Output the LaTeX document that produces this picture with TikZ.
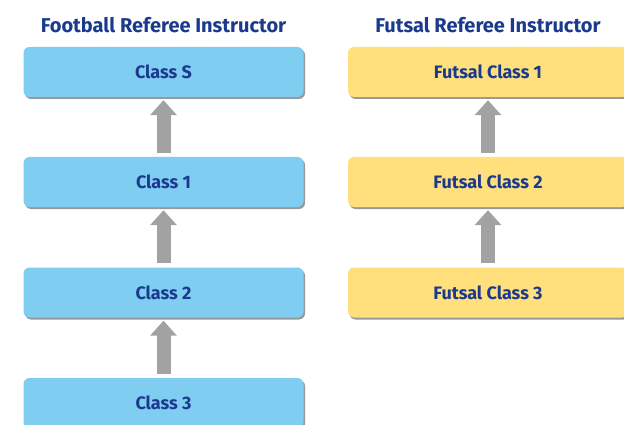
\documentclass[tikz,border=0pt]{standalone}
\usepackage{fontspec}
\setmainfont{Fira Sans}
\usetikzlibrary{arrows.meta,shadows,calc}
\definecolor{navy}{HTML}{1B3A8E}
\definecolor{skyfill}{HTML}{80CDF2}
\definecolor{yelfill}{HTML}{FFE07C}
\definecolor{arrgray}{HTML}{A2A2A2}
\tikzset{
  classbox/.style={rounded corners=6pt, minimum width=280pt, minimum height=50pt,
    inner sep=0pt, font=\fontsize{18}{20}\selectfont\bfseries, text=navy,
    drop shadow={shadow xshift=1.5pt, shadow yshift=-2pt, opacity=0.4, fill=black}},
  bluebox/.style={classbox, fill=skyfill},
  yelbox/.style={classbox, fill=yelfill},
  heading/.style={font=\fontsize{20}{23}\selectfont\bfseries, text=navy, inner sep=0pt},
  uparrow/.style={draw=arrgray, line width=14pt,
    -{Triangle[width=26pt,length=15pt]}, shorten >=3pt, shorten <=4pt}
}
\begin{document}
\begin{tikzpicture}[x=1pt,y=-1pt]
\useasboundingbox (0,0) rectangle (624,425);
\node[heading] (h1) at (163.5,25) {Football Referee Instructor};
\node[heading] (h2) at (488,25) {Futsal Referee Instructor};
\node[bluebox] (bS) at (163.5,72) {Class S};
\node[bluebox] (b1) at (163.5,182) {Class 1};
\node[bluebox] (b2) at (163.5,292.5) {Class 2};
\node[bluebox] (b3) at (163.5,403) {Class 3};
\node[yelbox] (f1) at (488,72) {Futsal Class 1};
\node[yelbox] (f2) at (488,182) {Futsal Class 2};
\node[yelbox] (f3) at (488,292.5) {Futsal Class 3};
\draw[uparrow] (b1.north) -- (bS.south);
\draw[uparrow] (b2.north) -- (b1.south);
\draw[uparrow] (b3.north) -- (b2.south);
\draw[uparrow] (f2.north) -- (f1.south);
\draw[uparrow] (f3.north) -- (f2.south);
\end{tikzpicture}
\end{document}
